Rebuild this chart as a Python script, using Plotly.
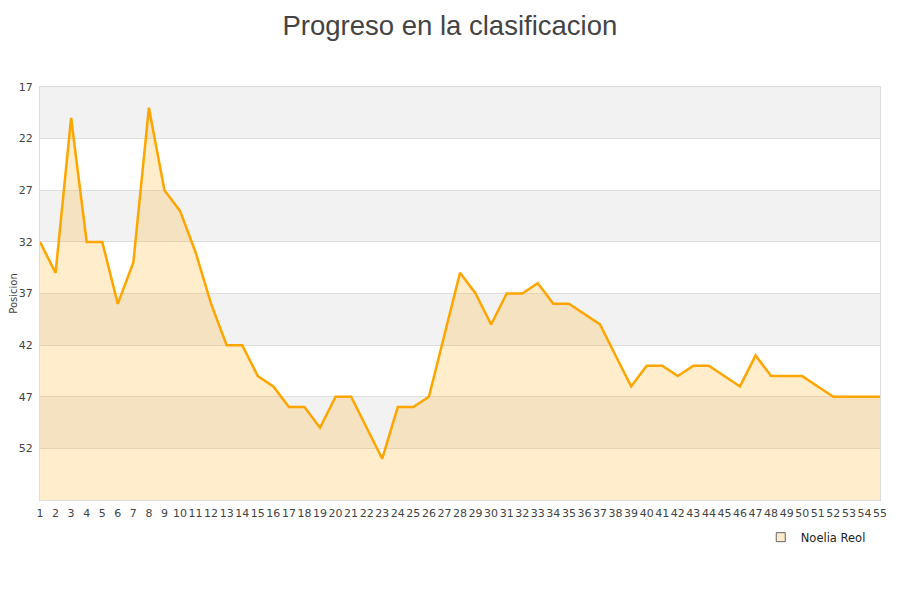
import plotly.graph_objects as go

# jornadas y posicion en la clasificacion
jornadas = list(range(1, 56))
posiciones = [
    32, 35, 20, 32, 32, 38, 34, 19, 27, 29,
    33, 38, 42, 42, 45, 46, 48, 48, 50, 47,
    47, 50, 53, 48, 48, 47, 41, 35, 37, 40,
    37, 37, 36, 38, 38, 39, 40, 43, 46, 44,
    44, 45, 44, 44, 45, 46, 43, 45, 45, 45,
    46, 47, 47, 47, 47,
]
y_ticks = [17, 22, 27, 32, 37, 42, 47, 52]
y_fondo = 57
jugadora = "Noelia Reol"

fig = go.Figure()

# linea base invisible para rellenar hasta el fondo del eje
fig.add_trace(go.Scatter(
    x=jornadas, y=[y_fondo] * len(jornadas), mode="lines",
    line=dict(width=0), showlegend=False, hoverinfo="skip",
))
fig.add_trace(go.Scatter(
    x=jornadas, y=posiciones, name=jugadora, mode="lines",
    line=dict(color="#ffa500", width=2.5),
    fill="tonexty", fillcolor="rgba(255,165,0,0.2)", showlegend=False,
))
# solo para la leyenda (cuadrado)
fig.add_trace(go.Scatter(
    x=[None], y=[None], name=jugadora, mode="markers",
    marker=dict(symbol="square", size=9, color="#fdebcb",
                line=dict(color="#666", width=1)),
))

# bandas alternas de fondo
shapes = []
for i, t in enumerate(y_ticks):
    if i % 2 == 0:
        shapes.append(dict(
            type="rect", xref="paper", yref="y", x0=0, x1=1,
            y0=t, y1=t + 5, fillcolor="#f2f2f2", line=dict(width=0),
            layer="below",
        ))

fig.update_layout(
    width=900, height=600,
    paper_bgcolor="white", plot_bgcolor="white",
    margin=dict(l=32, r=28, t=79, b=108),
    title=dict(text="Progreso en la clasificacion", x=0.491, xanchor="center",
               y=0.971, yanchor="middle",
               font=dict(family="Liberation Sans", size=27.5, color="#444")),
    font=dict(family="DejaVu Sans", size=11, color="#444"),
    shapes=shapes,
    showlegend=True,
    legend=dict(orientation="h", x=0.989, xanchor="right", y=-0.09,
                yanchor="middle", font=dict(size=11.5, color="#222")),
    xaxis=dict(range=[1, 55], tickmode="linear", tick0=1, dtick=1,
               tickangle=0, automargin=False, ticklabelstandoff=3,
               showgrid=False, zeroline=False, showline=True,
               linecolor="#dddddd", mirror=True, ticks="",
               tickfont=dict(size=11, color="#444")),
    yaxis=dict(range=[y_fondo, 17], tickvals=y_ticks, showgrid=True,
               automargin=False, ticklabelstandoff=4,
               gridcolor="#dedede", zeroline=False, showline=True,
               linecolor="#dddddd", mirror=True,
               title=dict(text="Posicion", font=dict(size=10, color="#444"),
                          standoff=6),
               tickfont=dict(size=11, color="#444")),
)

fig.write_html("out.html")
